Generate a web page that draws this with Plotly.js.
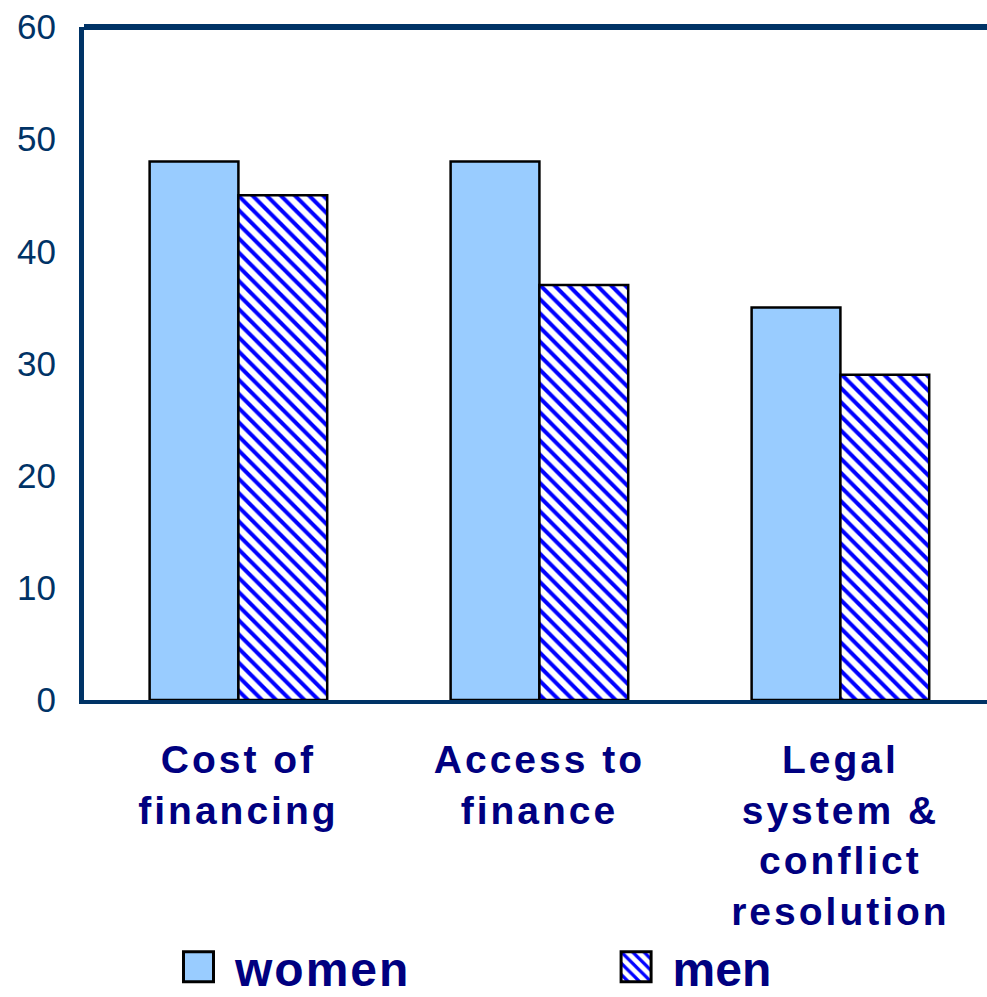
<!DOCTYPE html>
<html>
<head>
<meta charset="utf-8">
<script src="https://cdn.plot.ly/plotly-3.0.1.min.js"></script>
<style>
html,body{margin:0;padding:0;background:#fff;}
#chart{width:987px;height:997px;}
#chart .xtick text{letter-spacing:3px;}
#chart .legendtext{letter-spacing:2px;}
</style>
</head>
<body>
<div id="chart"></div>
<script>
const categories = ["Cost of<br>financing", "Access to<br>finance", "Legal<br>system &amp;<br>conflict<br>resolution"];
const women = [48, 48, 35];
const men = [45, 37, 29];
const yTicks = [0, 10, 20, 30, 40, 50, 60];

const navy = "#000080";
const axisNavy = "#003366";
const fam = "Liberation Sans, Arial, sans-serif";

const traces = [
  {
    type: "bar", name: "women", x: categories, y: women, legend: "legend",
    marker: {color: "#99CCFF", line: {color: "#000000", width: 2.5}},
    hoverinfo: "none"
  },
  {
    type: "bar", name: "men", x: categories, y: men, legend: "legend2",
    marker: {
      color: "#ffffff",
      line: {color: "#000000", width: 2.5},
      pattern: {shape: "\\", fgcolor: "#0000ff", bgcolor: "#ffffff", size: 10, solidity: 0.4}
    },
    hoverinfo: "none"
  }
];

const legendFont = {size: 48, color: navy, family: fam, weight: "bold"};

const layout = {
  width: 987, height: 997,
  margin: {l: 84, r: 0, t: 27, b: 297},
  paper_bgcolor: "#ffffff", plot_bgcolor: "#ffffff",
  barmode: "group", bargap: 0.41, bargroupgap: 0,
  showlegend: true,
  font: {family: fam},
  xaxis: {
    type: "category", range: [-0.513, 2.487],
    showline: true, linecolor: axisNavy, linewidth: 4,
    showgrid: false, zeroline: false, ticks: "",
    tickfont: {size: 39, color: navy, family: fam, weight: "bold"},
    ticklabelstandoff: 22
  },
  yaxis: {
    range: [0, 60], tickvals: yTicks, ticktext: yTicks.map(String),
    showline: true, linecolor: axisNavy, linewidth: 5,
    showgrid: false, zeroline: false, ticks: "",
    tickfont: {size: 35, color: axisNavy, family: fam},
    ticklabelstandoff: 16
  },
  legend: {
    orientation: "h", x: 0.0897, xanchor: "left",
    yref: "container", y: 0.030, yanchor: "middle",
    itemwidth: 60, font: legendFont, bgcolor: "rgba(0,0,0,0)"
  },
  legend2: {
    orientation: "h", x: 0.5743, xanchor: "left",
    yref: "container", y: 0.030, yanchor: "middle",
    itemwidth: 60, font: legendFont, bgcolor: "rgba(0,0,0,0)"
  },
  shapes: [
    {type: "line", xref: "paper", yref: "paper", x0: 0, x1: 1, y0: 1, y1: 1,
     line: {color: axisNavy, width: 6}}
  ]
};

Plotly.newPlot("chart", traces, layout, {displayModeBar: false, staticPlot: true}).then(function () {
  document.querySelectorAll("#chart .legendpoints path").forEach(function (p) {
    p.setAttribute("d", "M15,15H-15V-15H15Z");
    p.setAttribute("transform", "translate(33.5,0)");
    p.style.strokeWidth = "3px";
  });
});
</script>
</body>
</html>
